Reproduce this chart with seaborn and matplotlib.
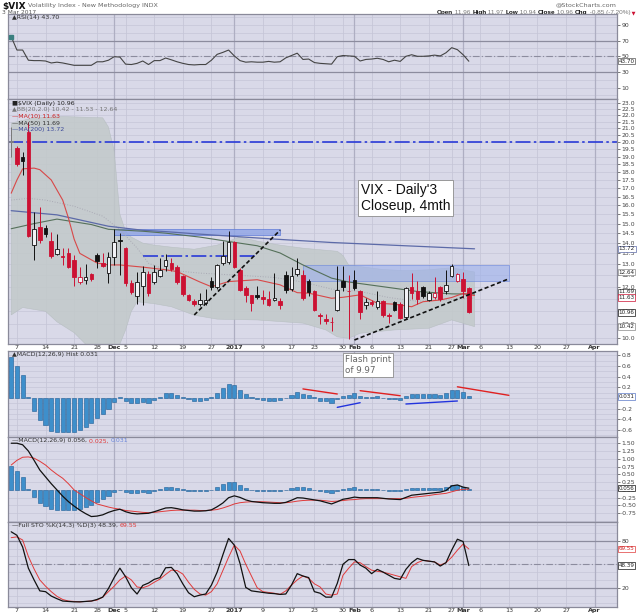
import numpy as np
import pandas as pd
import matplotlib
matplotlib.use("Agg")
import matplotlib.pyplot as plt
import seaborn as sns

sns.set_theme(style="white", rc={"axes.unicode_minus": False})
plt.rcParams["font.family"] = ["DejaVu Sans"]

# ---------------- data ----------------
holidays = ["2016-11-24", "2016-12-26", "2017-01-16", "2017-02-20"]
first_day, last_axis_day = "2016-11-04", "2017-04-07"

opens = [20.0, 19.6, 18.95, 20.7, 13.9, 14.8, 14.75, 14.1, 13.45, 13.37,
         13.5, 13.2, 12.22, 12.27, 12.55, 13.4, 13.05, 12.6, 13.35, 14.15,
         13.75, 12.15, 11.6, 12.05, 12.55, 12.2, 12.45, 12.9, 13.05, 12.85,
         12.45, 11.65, 11.4, 11.3, 11.32, 12.25, 12.0, 13.05, 13.1, 14.05,
         12.75, 11.95, 11.65, 11.66, 11.56, 11.5, 11.45, 11.4, 12.5, 11.9,
         12.55, 12.5, 12.25, 11.8, 10.85, 10.7, 10.6, 11.05, 12.25, 11.83,
         12.3, 11.8, 11.25, 11.38, 11.15, 11.4, 10.85, 11.35, 11.3, 10.77,
         12.0, 11.8, 12.0, 11.45, 11.58, 12.0, 11.8, 12.45, 12.25, 12.35,
         11.96]
highs = [21.1, 19.7, 19.3, 21.5, 15.6, 15.9, 14.95, 14.55, 14.45, 13.75,
         13.75, 13.4, 12.85, 13.0, 12.6, 13.5, 13.5, 13.55, 14.7, 14.5,
         13.8, 12.3, 12.65, 12.9, 12.7, 12.95, 13.3, 13.45, 13.3, 12.95,
         12.5, 11.7, 11.5, 11.75, 11.9, 12.4, 13.0, 14.1, 14.6, 14.1,
         12.8, 12.05, 11.65, 12.05, 11.85, 11.8, 12.6, 11.55, 12.7, 12.85,
         13.3, 12.75, 12.35, 11.85, 10.95, 10.9, 10.8, 12.9, 12.9, 12.5,
         12.75, 11.85, 11.55, 11.45, 11.8, 11.45, 10.92, 11.4, 11.35, 12.0,
         12.6, 12.25, 12.05, 11.8, 12.4, 12.05, 12.75, 13.0, 12.6, 12.65,
         11.97]
lows = [19.0, 18.4, 17.8, 14.3, 13.2, 14.0, 14.3, 13.3, 13.4, 12.95,
        12.8, 12.05, 12.1, 12.1, 12.25, 12.8, 12.85, 12.15, 12.95, 12.5,
        12.05, 11.7, 11.3, 11.25, 11.6, 12.1, 12.4, 12.7, 12.7, 12.1,
        11.6, 11.4, 11.2, 11.2, 11.25, 11.85, 11.9, 12.95, 13.0, 12.8,
        11.8, 11.35, 11.0, 11.5, 11.3, 11.2, 11.4, 11.1, 11.75, 11.8,
        12.45, 11.45, 11.6, 11.0, 10.5, 10.5, 10.27, 11.0, 11.8, 9.97,
        11.85, 10.7, 11.1, 11.2, 11.1, 10.8, 10.55, 11.0, 10.7, 10.72,
        11.5, 11.3, 11.55, 11.4, 11.5, 11.4, 11.7, 12.4, 12.2, 11.55,
        10.94]
closes = [20.1, 18.5, 18.74, 14.38, 14.74, 14.17, 14.48, 13.37, 13.72, 13.35,
          12.85, 12.42, 12.41, 12.43, 12.34, 13.15, 12.9, 13.33, 14.07, 14.12,
          12.14, 11.79, 12.22, 12.64, 11.75, 12.64, 12.72, 13.19, 12.79, 12.2,
          11.71, 11.45, 11.27, 11.43, 11.44, 11.99, 12.95, 13.37, 14.04, 12.85,
          11.85, 11.67, 11.32, 11.56, 11.49, 11.26, 11.54, 11.23, 11.87, 12.48,
          12.78, 11.54, 11.77, 11.07, 10.81, 10.63, 10.58, 11.88, 11.99, 11.81,
          11.93, 10.97, 11.37, 11.3, 11.42, 10.86, 10.82, 11.07, 10.74, 11.95,
          11.75, 11.49, 11.6, 11.74, 11.72, 11.47, 12.09, 12.92, 12.54, 11.81,
          10.96]

rsi = [75, 58, 58, 45, 44.5, 44.5, 44, 41.5, 42.5, 41.5,
       40, 38.5, 38.5, 38.5, 38.5, 43, 43, 45, 49.5, 49,
       40, 39.5, 41, 44, 39.5, 44.5, 44.5, 47.8, 45.5, 43,
       41, 39.5, 39, 39.5, 39.5, 45, 52.5, 55, 58, 50.5,
       44.5, 42.5, 43, 42.5, 42.5, 43.5, 42.5, 43, 48, 51,
       54, 46, 46.5, 42, 41, 40.5, 40, 49.5, 51, 50.5,
       50, 44, 46, 46.5, 47.5, 46, 43, 45, 43.5, 50,
       52, 50, 50, 50.5, 51.5, 50.5, 54.5, 61, 58.5, 52,
       43.7]

macd_hist = [0.77, 0.6, 0.43, 0.02, -0.24, -0.42, -0.51, -0.61, -0.63, -0.64,
             -0.64, -0.63, -0.6, -0.55, -0.47, -0.38, -0.3, -0.21, -0.075, 0.01,
             -0.06, -0.1, -0.1, -0.07, -0.09, -0.04, 0.025, 0.09, 0.1, 0.055,
             0.02, -0.025, -0.05, -0.05, -0.04, 0.01, 0.1, 0.18, 0.27, 0.24,
             0.15, 0.075, 0.01, -0.025, -0.04, -0.05, -0.05, -0.04, 0.0, 0.055,
             0.11, 0.08, 0.055, 0.01, -0.05, -0.06, -0.1, -0.025, 0.045, 0.055,
             0.1, 0.04, 0.025, 0.025, 0.03, 0.0, -0.025, -0.02, -0.04, 0.04,
             0.075, 0.075, 0.075, 0.075, 0.075, 0.065, 0.1, 0.15, 0.15, 0.11,
             0.031]
macd_line = [1.5, 1.5, 1.45, 1.25, 0.95, 0.64, 0.42, 0.2, 0.0, -0.2,
             -0.375, -0.52, -0.65, -0.76, -0.855, -0.84, -0.8, -0.72, -0.66, -0.62,
             -0.7, -0.75, -0.77, -0.76, -0.75, -0.7, -0.64, -0.58, -0.57, -0.6,
             -0.64, -0.66, -0.68, -0.68, -0.67, -0.64, -0.54, -0.42, -0.25, -0.19,
             -0.24, -0.32, -0.37, -0.39, -0.41, -0.42, -0.43, -0.43, -0.4, -0.33,
             -0.25, -0.26, -0.29, -0.32, -0.35, -0.4, -0.45, -0.38, -0.3, -0.27,
             -0.23, -0.25, -0.25, -0.25, -0.25, -0.27, -0.29, -0.3, -0.31, -0.24,
             -0.17, -0.15, -0.13, -0.11, -0.09, -0.07, -0.02, 0.13, 0.16, 0.09,
             0.056]
macd_signal = [0.8, 0.95, 1.05, 1.06, 1.02, 0.92, 0.8, 0.64, 0.5, 0.375,
               0.2, 0.0, -0.12, -0.24, -0.35, -0.45, -0.5, -0.55, -0.59, -0.62,
               -0.66, -0.68, -0.7, -0.72, -0.73, -0.72, -0.7, -0.68, -0.66, -0.65,
               -0.65, -0.65, -0.65, -0.66, -0.66, -0.65, -0.63, -0.58, -0.52, -0.45,
               -0.41, -0.39, -0.38, -0.38, -0.38, -0.39, -0.4, -0.41, -0.41, -0.39,
               -0.36, -0.34, -0.33, -0.33, -0.33, -0.35, -0.37, -0.36, -0.34, -0.32,
               -0.31, -0.29, -0.28, -0.28, -0.28, -0.28, -0.28, -0.28, -0.28, -0.27,
               -0.24, -0.22, -0.2, -0.18, -0.15, -0.13, -0.11, -0.06, -0.01, 0.02,
               0.025]

sto_k = [91.5, 87, 72, 45, 30, 16, 15, 9.4, 6, 3,
         2.5, 2, 2, 2.5, 3, 5, 8, 19, 33, 45,
         34, 20, 12, 23, 26, 30.7, 33, 45.5, 46, 38,
         25, 13.6, 8.5, 10.6, 12, 23.4, 40, 62, 83, 74.5,
         51, 20.5, 16, 15, 14, 13, 12.5, 11.5, 12, 23.4,
         38, 35, 33, 15, 13, 8, 8, 25.6, 50, 56,
         56, 49, 45, 38, 43.5, 40, 36, 32, 30.7, 43.5,
         52, 57.5, 55, 54, 53, 47.7, 52, 68, 82, 79,
         48.39]
sto_d = [84, 85, 81, 60, 44, 30, 22, 15, 9, 5,
         3, 2.5, 2, 2.5, 3, 4.3, 8, 15, 22, 30,
         35, 30, 21, 20, 22.5, 27, 31, 37, 42.5, 42,
         37.5, 27, 18, 12, 10.6, 15, 25, 42, 59, 74.5,
         67, 50, 35, 20, 15, 14, 13, 11.5, 16, 23.4,
         30, 35, 32, 25, 21, 12, 10.5, 12, 36, 45,
         53, 52, 47, 42.5, 41, 40, 38, 36, 34, 32,
         47, 52, 55, 54, 53, 49, 52, 59, 68, 75.8,
         69.55]

ma10_dates = ["2016-11-04", "2016-11-07", "2016-11-08", "2016-11-10", "2016-11-11", "2016-11-15",
              "2016-11-17", "2016-11-18", "2016-11-21", "2016-11-22", "2016-11-28", "2016-11-30",
              "2016-12-02", "2016-12-08", "2016-12-14", "2016-12-16", "2016-12-22", "2016-12-27",
              "2016-12-30", "2017-01-06", "2017-01-12", "2017-01-18", "2017-01-20", "2017-01-26",
              "2017-01-30", "2017-02-02", "2017-02-07", "2017-02-10", "2017-02-15", "2017-02-17",
              "2017-02-23", "2017-02-27", "2017-03-01", "2017-03-03"]
ma10_vals = [16.7, 17.5, 18.2, 18.25, 18.15, 17.5, 16.3, 15.3, 14.2, 13.5,
             13.05, 12.96, 12.96, 12.86, 12.74, 12.66, 12.2, 12.0, 12.22, 12.3,
             12.08, 11.75, 11.73, 11.52, 11.56, 11.66, 11.32, 11.28, 11.18, 11.38,
             11.45, 11.55, 11.72, 11.63]
ma20_dates = ["2016-11-04", "2016-11-09", "2016-11-14", "2016-11-21", "2016-11-29", "2016-12-02",
              "2016-12-07", "2016-12-09", "2016-12-14", "2016-12-22", "2016-12-30", "2017-01-11",
              "2017-01-19", "2017-01-26", "2017-02-02", "2017-02-09", "2017-02-16", "2017-02-24",
              "2017-03-03"]
ma20_vals = [16.3, 16.4, 16.3, 15.95, 15.4, 14.68, 13.76, 13.04, 12.74, 12.59,
             12.52, 12.4, 12.2, 11.9, 11.8, 11.55, 11.4, 11.45, 11.53]
ma50_dates = ["2016-11-04", "2016-11-10", "2016-11-16", "2016-11-25", "2016-11-30", "2016-12-08",
              "2016-12-14", "2016-12-22", "2016-12-30", "2017-01-06", "2017-01-12", "2017-01-19",
              "2017-01-26", "2017-01-31", "2017-02-08", "2017-02-16", "2017-02-27", "2017-03-03"]
ma50_vals = [14.73, 15.0, 15.24, 14.95, 14.7, 14.6, 14.5, 14.3, 14.08, 13.87,
             13.52, 12.96, 12.37, 12.2, 12.0, 11.8, 11.7, 11.69]
ma200_dates = ["2016-11-04", "2016-11-16", "2016-11-30", "2016-12-08", "2016-12-14", "2016-12-22",
               "2017-01-11", "2017-01-26", "2017-02-13", "2017-03-03"]
ma200_vals = [15.7, 15.47, 14.86, 14.65, 14.58, 14.45, 14.2, 14.03, 13.88, 13.72]

bb_up_dates = ["2016-11-04", "2016-11-10", "2016-11-17", "2016-11-29", "2016-11-30", "2016-12-01",
               "2016-12-02", "2016-12-05", "2016-12-06", "2016-12-08", "2016-12-12", "2016-12-15",
               "2016-12-21", "2016-12-28", "2017-01-03", "2017-01-06", "2017-01-12", "2017-01-19",
               "2017-01-25", "2017-01-27", "2017-01-30", "2017-01-31", "2017-02-03", "2017-02-08",
               "2017-02-14", "2017-02-21", "2017-02-27", "2017-03-03"]
bb_up_vals = [21.4, 21.8, 21.9, 21.8, 21.1, 19.4, 15.5, 14.6, 14.3, 14.0,
              13.9, 13.8, 13.7, 13.9, 14.3, 14.1, 13.9, 13.75, 13.65, 13.6,
              13.4, 12.95, 12.85, 12.75, 12.7, 12.74, 12.83, 12.64]
bb_lo_dates = ["2016-11-04", "2016-11-08", "2016-11-14", "2016-11-16", "2016-11-21", "2016-11-25",
               "2016-12-01", "2016-12-02", "2016-12-05", "2016-12-06", "2016-12-07", "2016-12-12",
               "2016-12-15", "2016-12-21", "2016-12-28", "2017-01-06", "2017-01-19", "2017-01-25",
               "2017-01-27", "2017-01-31", "2017-02-02", "2017-02-10", "2017-02-21", "2017-02-27",
               "2017-03-03"]
bb_lo_vals = [10.86, 11.15, 11.0, 10.6, 10.2, 9.6, 9.5, 9.8, 10.3, 11.0,
              11.38, 11.3, 11.18, 10.85, 10.7, 10.67, 10.55, 10.3, 10.05, 10.0,
              10.18, 10.3, 10.36, 10.67, 10.42]

# hand-drawn annotations on the chart
level_20 = 20.0
box_dec = ("2016-12-01", "2017-01-12", 14.4, 14.7)
line_dec = ("2016-12-08", "2017-01-06", 13.38)
box_feb = ("2017-01-19", "2017-03-13", 12.25, 12.97)
trend_dec = ("2016-12-21", 10.86, "2017-01-12", 14.65)
trend_feb = ("2017-02-01", 9.94, "2017-03-13", 12.34)
hist_lines = [("2017-01-19", 0.17, "2017-01-27", 0.075, "#e02020"),
              ("2017-01-27", -0.175, "2017-02-02", -0.088, "#2233dd"),
              ("2017-02-02", 0.137, "2017-02-13", 0.043, "#e02020"),
              ("2017-02-14", -0.112, "2017-02-28", -0.056, "#2233dd"),
              ("2017-02-28", 0.21, "2017-03-13", 0.05, "#e02020")]

# ---------------- trading-day axis ----------------
days = pd.bdate_range(first_day, last_axis_day)
days = days[~days.isin(pd.to_datetime(holidays))]
pos = {d: i for i, d in enumerate(days)}


def xi(d):
    return pos[pd.Timestamp(d)]


def xs_of(dates):
    return np.array([xi(d) for d in dates])


s = pd.Series(days)
first_wk = ~s.dt.to_period("W").duplicated()
first_mo = ~s.dt.to_period("M").duplicated()
tick_pos, tick_lab, tick_bold = [], [], []
for i, d in enumerate(days):
    if i == 0:
        continue
    if first_mo[i]:
        tick_pos.append(i)
        tick_lab.append(str(d.year) if d.month == 1 else d.strftime("%b"))
        tick_bold.append(True)
    elif first_wk[i]:
        tick_pos.append(i)
        tick_lab.append(str(d.day))
        tick_bold.append(False)
month_pos = [p for p, b in zip(tick_pos, tick_bold) if b]

n = len(closes)
x = np.arange(n)
o, h, l, c = map(np.array, (opens, highs, lows, closes))

# ---------------- styling ----------------
PANEL = "#d9d9e8"
GRID = "#c6c6d8"
GRID_DARK = "#aeaec2"
LEVEL = "#8c8c9e"
SPINE = "#8a8a9a"
RED = "#cc1133"
BLUE_BAR = "#3e8fcb"
FW, FH = 640, 614
XL, XR = 8, 617
XMIN, XMAX = -0.56, 105.9

fig = plt.figure(figsize=(6.4, 6.14), dpi=100)
fig.patch.set_facecolor("white")

hdr = fig.add_axes([0, 0, 1, 1])
hdr.set_xlim(0, FW)
hdr.set_ylim(FH, 0)
hdr.axis("off")


def panel(top, bottom):
    ax = fig.add_axes([XL / FW, 1 - bottom / FH, (XR - XL) / FW, (bottom - top) / FH])
    ax.set_facecolor(PANEL)
    ax.set_axisbelow(True)
    for sp in ax.spines.values():
        sp.set_color(SPINE)
        sp.set_linewidth(0.9)
    ax.yaxis.tick_right()
    ax.tick_params(axis="y", which="major", labelsize=4.4, colors="#444444",
                   length=2, width=0.5, pad=1, right=True, left=False)
    ax.tick_params(axis="y", which="minor", length=0)
    ax.tick_params(axis="x", length=0, labelbottom=False, pad=1)
    return ax


def finish_x(ax, labels=False):
    ax.set_xlim(XMIN, XMAX)
    ax.set_xticks(tick_pos)
    ax.grid(axis="x", color=GRID, lw=0.6)
    for p in month_pos:
        ax.axvline(p, color=GRID_DARK, lw=0.9, zorder=0.6)
    if labels:
        ax.tick_params(axis="x", labelbottom=True, labelsize=4.6, colors="#333333")
        ax.set_xticklabels(tick_lab)
        for t, b in zip(ax.get_xticklabels(), tick_bold):
            if b:
                t.set_fontweight("bold")
    ax.set_xlabel("")
    ax.set_ylabel("")


def legend(ax, parts, y=0.985, size=4.5):
    t = ax.text(0.006, y, parts[0][0], color=parts[0][1], fontsize=size,
                transform=ax.transAxes, va="top", ha="left", zorder=10)
    for txt, col in parts[1:]:
        t = ax.annotate(txt, xy=(1, 0), xycoords=t, va="bottom", ha="left",
                        color=col, fontsize=size, zorder=10)
    return t


def tag(ax, y, text, ec, tc="#222222"):
    ax.annotate(text, xy=(1.0, y), xycoords=("axes fraction", "data"),
                xytext=(1.2, 0), textcoords="offset points", fontsize=4.1,
                va="center", ha="left", color=tc, annotation_clip=False, zorder=12,
                bbox=dict(boxstyle="square,pad=0.12", fc="white", ec=ec, lw=0.5))


# ---------------- header ----------------
t = hdr.text(2, 6, "$VIX", fontsize=6.5, fontweight="bold", va="center", color="#111111")
hdr.annotate(" Volatility Index - New Methodology INDX", xy=(1, 0.5), xycoords=t,
             va="center", fontsize=4.6, color="#666666")
hdr.text(2, 12, "3 Mar 2017", fontsize=4.3, va="center", color="#555555")
hdr.text(617, 4.5, "@StockCharts.com", fontsize=4.6, va="center", ha="right", color="#666666")
hfont = ["Liberation Sans", "DejaVu Sans"]
parts = [("Open", True), (" 11.96 ", False), ("High", True), (" 11.97 ", False),
         ("Low", True), (" 10.94 ", False), ("Close", True), (" 10.96 ", False),
         ("Chg", True), (" -0.85 (-7.20%)", False)]
t = hdr.text(437, 12.5, parts[0][0], fontsize=4.6, fontweight="bold", va="center",
             color="#111111", family=hfont)
for txt, bold in parts[1:]:
    t = hdr.annotate(txt, xy=(1, 0.5), xycoords=t, va="center", fontsize=4.6,
                     fontweight="bold" if bold else "normal", family=hfont,
                     color="#111111" if bold else "#777777")
hdr.annotate(" \u25bc", xy=(1, 0.5), xycoords=t, va="center", fontsize=3.6, color=RED)

# ---------------- RSI ----------------
ax = panel(14, 99)
for v in np.arange(0, 101, 10):
    ax.axhline(v, color=GRID, lw=0.5, zorder=0.5)
ax.axhline(70, color=LEVEL, lw=0.9, zorder=1)
ax.axhline(30, color=LEVEL, lw=0.9, zorder=1)
ax.axhline(50, color=LEVEL, lw=0.8, ls=(0, (6, 2, 1, 2)), zorder=1)
sns.lineplot(x=x, y=rsi, ax=ax, color="#444444", lw=0.8, zorder=3)
ax.plot(x[0], rsi[0], marker="s", ms=2.6, color="#3a7f7f", zorder=4)
ax.set_ylim(-4.5, 104)
ax.set_yticks([10, 30, 50, 70, 90])
legend(ax, [("\u25b2RSI(14) 43.70", "#333333")])
tag(ax, rsi[-1], "43.70", "#555555")
finish_x(ax)

# ---------------- price ----------------
ax = panel(99, 344)
ax.set_yscale("log")
price_ticks = np.arange(10.0, 23.01, 0.5)
for v in price_ticks:
    ax.axhline(v, color=GRID, lw=0.5, zorder=0.5)

bb_x = np.r_[xs_of(bb_up_dates), xs_of(bb_lo_dates)[::-1]]
bb_y = np.r_[bb_up_vals, bb_lo_vals[::-1]]
ax.fill(bb_x, bb_y, facecolor="#c2c9ca", edgecolor="#b4bcbe", lw=0.4, alpha=0.85, zorder=1)

ax.axhline(level_20, color="#2a3ad8", lw=1.2, ls=(0, (9, 2, 1.5, 2)), zorder=2)
ax.fill_between([xi(box_dec[0]), xi(box_dec[1])], box_dec[2], box_dec[3],
                facecolor="#8ea4e6", edgecolor="#5a78d8", lw=0.6, alpha=0.8, zorder=2)
ax.fill_between([xi(box_feb[0]), xi(box_feb[1])], box_feb[2], box_feb[3],
                facecolor="#9cb0ec", edgecolor="#6a86dc", lw=0.7, alpha=0.6, zorder=2)
ax.plot([xi(line_dec[0]), xi(line_dec[1])], [line_dec[2]] * 2, color="#2a3ad8",
        lw=1.2, ls=(0, (9, 2, 1.5, 2)), zorder=2)

sns.lineplot(x=xs_of(ma20_dates), y=ma20_vals, ax=ax, color="#a9a9b4", lw=0.7, ls=":", zorder=2)
sns.lineplot(x=xs_of(ma200_dates), y=ma200_vals, ax=ax, color="#5c6aa8", lw=0.9, zorder=2)
sns.lineplot(x=xs_of(ma50_dates), y=ma50_vals, ax=ax, color="#55705a", lw=0.8, zorder=2)
sns.lineplot(x=xs_of(ma10_dates), y=ma10_vals, ax=ax, color="#d84848", lw=0.8, zorder=2.5)

prev = np.r_[c[0] - 1, c[:-1]]
edge = np.where(c < prev, RED, "#111111")
edge[0] = "#777777"
face = np.where(c > o, "#f2f2f6", edge)
ax.vlines(x, l, h, colors=edge, lw=0.7, zorder=3)
ax.bar(x, np.maximum(np.abs(c - o), 0.03), bottom=np.minimum(o, c), width=0.62,
       color=face, edgecolor=edge, linewidth=0.6, zorder=4)

for x0, y0, x1, y1 in [trend_dec, trend_feb]:
    ax.plot([xi(x0), xi(x1)], [y0, y1], color="#111111", lw=1.2, ls=(0, (2.5, 1.5)), zorder=5)

ax.text(61.1, 17.3, "VIX - Daily'3\nCloseup, 4mth", fontsize=10, va="top", ha="left",
        family=["Liberation Sans", "DejaVu Sans"], color="#111111", linespacing=1.15, zorder=6,
        bbox=dict(boxstyle="square,pad=0.22", fc="white", ec="#8c8c8c", lw=0.6))

ax.set_ylim(9.8, 23.3)
ax.set_yticks(price_ticks)
ax.set_yticklabels([f"{v:.1f}" for v in price_ticks])
ax.yaxis.set_minor_locator(matplotlib.ticker.NullLocator())
lg = [("\u25a0$VIX (Daily) 10.96", "#222222"), ("\u25b2BB(20,2.0) 10.42 - 11.53 - 12.64", "#777777"),
      ("\u2014MA(10) 11.63", "#cc2222"), ("\u2014MA(50) 11.69", "#333333"),
      ("\u2014MA(200) 13.72", "#3d4a9a")]
for k, (txt, col) in enumerate(lg):
    ax.text(0.006, 0.993 - k * 0.027, txt, color=col, fontsize=4.5, transform=ax.transAxes,
            va="top", ha="left", zorder=10)
tag(ax, 13.72, "13.72", "#5c6aa8")
tag(ax, 12.64, "12.64", "#888888")
tag(ax, 11.78, "11.69", "#444444")
tag(ax, 11.55, "11.63", RED)
tag(ax, 10.96, "10.96", "#111111")
tag(ax, 10.42, "10.42", "#888888")
finish_x(ax, labels=True)

# ---------------- MACD histogram ----------------
ax = panel(351, 437)
for v in np.arange(-0.7, 0.81, 0.1):
    ax.axhline(v, color=GRID, lw=0.5, zorder=0.5)
ax.bar(x, macd_hist, width=0.72, color=BLUE_BAR, edgecolor="#1f5e96", lw=0.4, zorder=3)
for x0, y0, x1, y1, col in hist_lines:
    sns.lineplot(x=[xi(x0), xi(x1)], y=[y0, y1], ax=ax, color=col, lw=1.0, zorder=4)
ax.text(58.3, 0.80, "Flash print\nof 9.97", fontsize=6.3, color="#666666", va="top",
        ha="left", linespacing=1.2, zorder=6,
        bbox=dict(boxstyle="square,pad=0.25", fc="white", ec="#8c8c8c", lw=0.6))
ax.set_ylim(-0.73, 0.88)
hist_ticks = [-0.6, -0.4, -0.2, 0.0, 0.2, 0.4, 0.6, 0.8]
ax.set_yticks(hist_ticks)
ax.set_yticklabels([f"{v:.1f}" for v in hist_ticks])
legend(ax, [("\u25b2MACD(12,26,9) Hist 0.031", "#333333")])
tag(ax, 0.031, "0.031", "#5a78c8")
finish_x(ax)

# ---------------- MACD ----------------
ax = panel(437, 522)
for v in np.arange(-1.0, 1.51, 0.25):
    ax.axhline(v, color=GRID, lw=0.5, zorder=0.5)
ax.bar(x, macd_hist, width=0.72, color=BLUE_BAR, edgecolor="#1f5e96", lw=0.4, zorder=2)
sns.lineplot(x=x, y=macd_signal, ax=ax, color="#e03a3a", lw=0.7, zorder=3)
sns.lineplot(x=x, y=macd_line, ax=ax, color="#111111", lw=0.9, zorder=4)
ax.set_ylim(-1.03, 1.70)
macd_ticks = [-0.75, -0.5, -0.25, 0.0, 0.25, 0.5, 0.75, 1.0, 1.25, 1.5]
ax.set_yticks(macd_ticks)
ax.set_yticklabels([f"{v:.2f}" for v in macd_ticks])
legend(ax, [("\u2014MACD(12,26,9) 0.056, ", "#333333"), ("0.025, ", "#e03a3a"),
            ("0.031", "#6a86dc")])
tag(ax, 0.056, "0.056", "#111111")
finish_x(ax)

# ---------------- Full stochastics ----------------
ax = panel(522, 607)
for v in np.arange(0, 101, 10):
    ax.axhline(v, color=GRID, lw=0.5, zorder=0.5)
ax.axhline(80, color=LEVEL, lw=0.9, zorder=1)
ax.axhline(20, color=LEVEL, lw=0.9, zorder=1)
ax.axhline(50, color=LEVEL, lw=0.8, ls=(0, (6, 2, 1, 2)), zorder=1)
sns.lineplot(x=x, y=sto_d, ax=ax, color="#e03a3a", lw=0.7, zorder=3)
sns.lineplot(x=x, y=sto_k, ax=ax, color="#111111", lw=0.9, zorder=4)
ax.set_ylim(-4.6, 104)
ax.set_yticks([20, 80])
legend(ax, [("\u2014Full STO %K(14,3) %D(3) 48.39, ", "#333333"), ("69.55", "#e03a3a")])
tag(ax, sto_d[-1], "69.55", "#e03a3a", tc="#cc2222")
tag(ax, sto_k[-1], "48.39", "#111111")
finish_x(ax, labels=True)

fig.savefig("out.png", dpi=100, facecolor="white")
